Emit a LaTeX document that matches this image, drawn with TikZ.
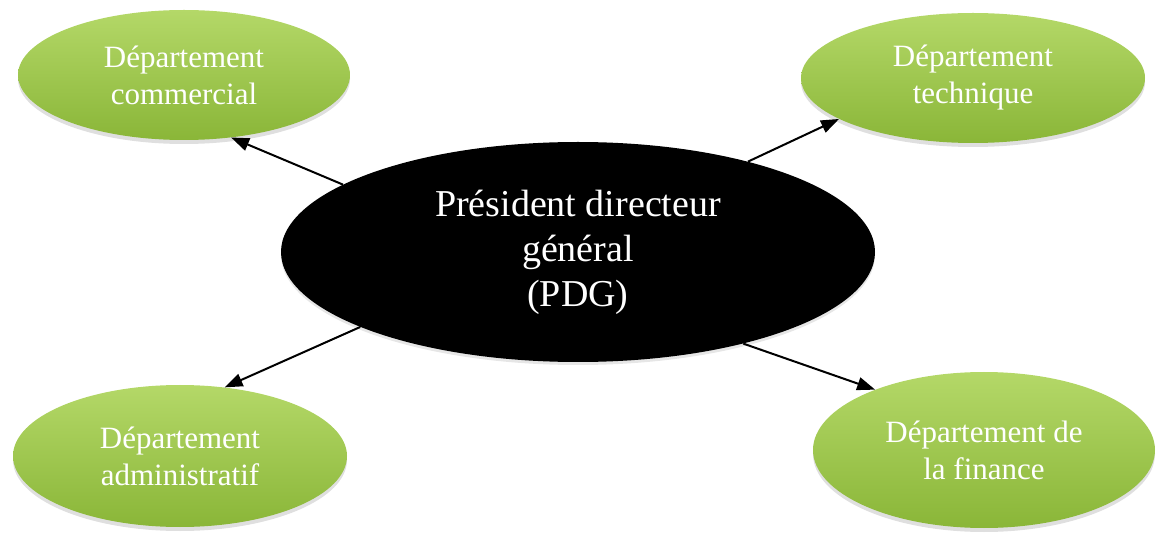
\documentclass[tikz,border=0pt]{standalone}
\usepackage{fontspec}
\setmainfont{Liberation Serif}
\usetikzlibrary{shapes.geometric,arrows.meta,shadows}
\definecolor{gtop}{RGB}{180,216,104}
\definecolor{gbot}{RGB}{138,182,56}
\begin{document}
\begin{tikzpicture}[x=1pt,y=-1pt,
  dept/.style={ellipse,inner sep=0pt,top color=gtop,bottom color=gbot,
    drop shadow={shadow xshift=0pt,shadow yshift=-4pt,opacity=0.25},
    text=white,align=center,font=\fontsize{31}{37}\selectfont},
  boss/.style={ellipse,inner sep=0pt,fill=black,
    drop shadow={shadow xshift=0pt,shadow yshift=-3pt,opacity=0.2},
    text=white,align=center,font=\fontsize{38}{45}\selectfont},
  link/.style={line width=2pt,-{Triangle[length=18pt,width=13pt]}}]
\useasboundingbox (0,0) rectangle (1160,537);
\node[boss,minimum width=594pt,minimum height=220pt] (pdg) at (578,252) {Président directeur\\général\\(PDG)};
\node[dept,minimum width=332pt,minimum height=130pt] (com) at (184,75) {Département\\commercial};
\node[dept,minimum width=344pt,minimum height=130pt] (tech) at (973,78) {Département\\technique};
\node[dept,minimum width=334pt,minimum height=142pt] (adm) at (180,456) {Département\\administratif};
\node[dept,minimum width=342pt,minimum height=156pt] (fin) at (984,450) {Département de\\la finance};
\draw[link] (pdg.164) -- (com.-53);
\draw[link] (pdg.28) -- (tech.-163);
\draw[link] (pdg.199) -- (adm.57);
\draw[link] (pdg.-29) -- (fin.151);
\end{tikzpicture}
\end{document}
